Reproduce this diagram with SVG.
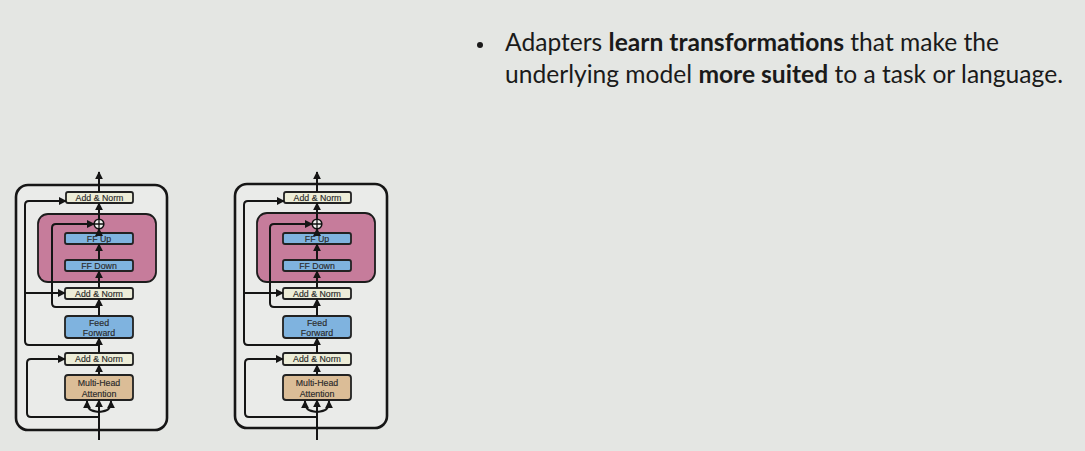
<svg xmlns="http://www.w3.org/2000/svg" width="1085" height="451" viewBox="0 0 1085 451">
  <style>
    .frame { fill: #eaebe9; stroke: #161616; stroke-width: 2.6; }
    .adapter { fill: #c67c9b; stroke: #1c1c1c; stroke-width: 1.8; }
    .norm { fill: #ededd8; stroke: #222; stroke-width: 1.8; }
    .ff { fill: #7fb3df; stroke: #222; stroke-width: 1.8; }
    .attn { fill: #dbbd97; stroke: #222; stroke-width: 1.8; }
    .sum { fill: #f2f2f0; stroke: #111; stroke-width: 1.6; }
    .lbl { font-family: "Liberation Sans", Arial, sans-serif; font-size: 8.8px; fill: #2a2a2a; text-anchor: middle; stroke: #2a2a2a; stroke-width: 0.15; }
    .wire { fill: none; stroke: #151515; stroke-width: 2; stroke-linejoin: round; }
    .arr { marker-end: url(#tip); }
    .slide { font-family: Lato, "Open Sans", sans-serif; font-size: 24.6px; fill: #1a1a1a; }
  </style>
  <defs>
    <marker id="tip" markerUnits="userSpaceOnUse" markerWidth="8" markerHeight="8" viewBox="0 0 10 10" refX="9" refY="5" orient="auto">
      <path d="M0,0 L10,5 L0,10 z" fill="#151515"/>
    </marker>
  </defs>

  <rect width="1085" height="451" fill="#e4e6e3"/>

  <!-- bullet point -->
  <g id="bullet">
    <circle cx="480" cy="45" r="3" fill="#1a1a1a"/>
    <text class="slide" x="505" y="51">Adapters <tspan font-weight="bold">learn transformations</tspan> that make the</text>
    <text class="slide" x="505" y="83">underlying model <tspan font-weight="bold">more suited</tspan> to a task or language.</text>
  </g>

  <!-- transformer layer with adapter, first copy -->
  <g id="layer-a">
    <g id="a-frame"><rect class="frame" x="16" y="185" width="151" height="245" rx="12"/></g>
    <g id="a-adapter"><rect class="adapter" x="38" y="214" width="118" height="68" rx="10"/></g>
    <g id="a-norm-top"><rect class="norm" x="66" y="192" width="67" height="11" rx="2"/><text class="lbl" x="99.5" y="200.8">Add &amp; Norm</text></g>
    <g id="a-sum"><circle class="sum" cx="99" cy="224" r="4.8"/><path d="M94.2,224 H103.8 M99,219.2 V228.8" stroke="#111" stroke-width="1.3"/></g>
    <g id="a-ff-up"><rect class="ff" x="65" y="233" width="68" height="11" rx="2"/><text class="lbl" x="99" y="241.8">FF Up</text></g>
    <g id="a-ff-down"><rect class="ff" x="65" y="260" width="68" height="11" rx="2"/><text class="lbl" x="99" y="268.8">FF Down</text></g>
    <g id="a-norm-mid"><rect class="norm" x="65" y="288" width="68" height="11" rx="2"/><text class="lbl" x="99" y="296.8">Add &amp; Norm</text></g>
    <g id="a-feed"><rect class="ff" x="65" y="316" width="68" height="22" rx="3"/><text class="lbl" x="99" y="325.5">Feed</text><text class="lbl" x="99" y="335.5">Forward</text></g>
    <g id="a-norm-low"><rect class="norm" x="65" y="353" width="68" height="12" rx="2"/><text class="lbl" x="99" y="362.3">Add &amp; Norm</text></g>
    <g id="a-attn"><rect class="attn" x="65" y="375" width="68" height="25" rx="3"/><text class="lbl" x="99" y="386">Multi-Head</text><text class="lbl" x="99" y="396.5">Attention</text></g>
    <g id="a-wires">
      <path class="wire arr" d="M99,440 V400"/>
      <path class="wire arr" d="M99,412 C90,411 87,409 87,401"/>
      <path class="wire arr" d="M99,412 C108,411 111,409 111,401"/>
      <path class="wire arr" d="M99,417 H31 Q27,417 27,413 V363 Q27,359 31,359 H65"/>
      <path class="wire arr" d="M99,375 V365"/>
      <path class="wire arr" d="M99,353 V338"/>
      <path class="wire arr" d="M99,345 H29 Q25,345 25,341 V205 Q25,201 29,201 H66"/>
      <path class="wire arr" d="M25,293 H65"/>
      <path class="wire arr" d="M99,316 V299"/>
      <path class="wire arr" d="M99,307 H56 Q52,307 52,303 V228 Q52,224 56,224 H94.2"/>
      <path class="wire arr" d="M99,288 V271"/>
      <path class="wire arr" d="M99,260 V244"/>
      <path class="wire arr" d="M99,233 V228.8"/>
      <path class="wire arr" d="M99,219.2 V203"/>
      <path class="wire arr" d="M99,192 V172"/>
    </g>
  </g>

  <!-- second copy, same layout shifted right -->
  <g id="layer-b" transform="translate(218,0)">
    <g id="b-frame"><rect class="frame" x="17" y="184" width="152" height="244" rx="12"/></g>
    <g id="b-adapter"><rect class="adapter" x="39" y="213" width="118" height="69" rx="10"/></g>
    <g id="b-norm-top"><rect class="norm" x="66" y="192" width="67" height="11" rx="2"/><text class="lbl" x="99.5" y="200.8">Add &amp; Norm</text></g>
    <g id="b-sum"><circle class="sum" cx="99" cy="224" r="4.8"/><path d="M94.2,224 H103.8 M99,219.2 V228.8" stroke="#111" stroke-width="1.3"/></g>
    <g id="b-ff-up"><rect class="ff" x="65" y="233" width="68" height="11" rx="2"/><text class="lbl" x="99" y="241.8">FF Up</text></g>
    <g id="b-ff-down"><rect class="ff" x="65" y="260" width="68" height="11" rx="2"/><text class="lbl" x="99" y="268.8">FF Down</text></g>
    <g id="b-norm-mid"><rect class="norm" x="65" y="288" width="68" height="11" rx="2"/><text class="lbl" x="99" y="296.8">Add &amp; Norm</text></g>
    <g id="b-feed"><rect class="ff" x="65" y="316" width="68" height="22" rx="3"/><text class="lbl" x="99" y="325.5">Feed</text><text class="lbl" x="99" y="335.5">Forward</text></g>
    <g id="b-norm-low"><rect class="norm" x="65" y="353" width="68" height="12" rx="2"/><text class="lbl" x="99" y="362.3">Add &amp; Norm</text></g>
    <g id="b-attn"><rect class="attn" x="65" y="375" width="68" height="25" rx="3"/><text class="lbl" x="99" y="386">Multi-Head</text><text class="lbl" x="99" y="396.5">Attention</text></g>
    <g id="b-wires">
      <path class="wire arr" d="M99,440 V400"/>
      <path class="wire arr" d="M99,412 C90,411 87,409 87,401"/>
      <path class="wire arr" d="M99,412 C108,411 111,409 111,401"/>
      <path class="wire arr" d="M99,417 H31 Q27,417 27,413 V363 Q27,359 31,359 H65"/>
      <path class="wire arr" d="M99,375 V365"/>
      <path class="wire arr" d="M99,353 V338"/>
      <path class="wire arr" d="M99,345 H30 Q26,345 26,341 V205 Q26,201 30,201 H66"/>
      <path class="wire arr" d="M26,293 H65"/>
      <path class="wire arr" d="M99,316 V299"/>
      <path class="wire arr" d="M99,307 H56 Q52,307 52,303 V228 Q52,224 56,224 H94.2"/>
      <path class="wire arr" d="M99,288 V271"/>
      <path class="wire arr" d="M99,260 V244"/>
      <path class="wire arr" d="M99,233 V228.8"/>
      <path class="wire arr" d="M99,219.2 V203"/>
      <path class="wire arr" d="M99,192 V172"/>
    </g>
  </g>
</svg>
